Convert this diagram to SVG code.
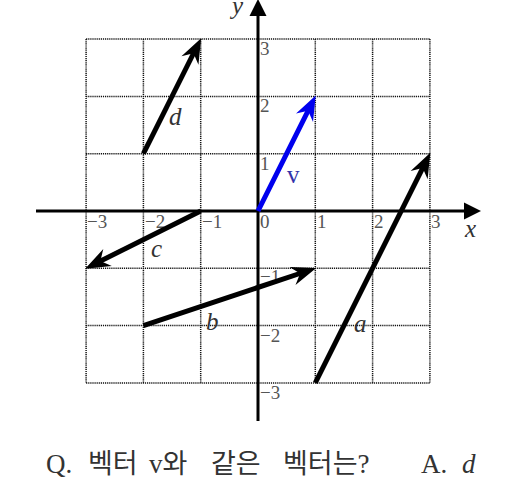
<svg xmlns="http://www.w3.org/2000/svg" width="516" height="484" viewBox="0 0 516 484">
<style>
.grid{stroke:#111;stroke-width:1.5;stroke-dasharray:1.2 0.9;fill:none}
.axis{stroke:#000;stroke-width:3;fill:none}
.vec{stroke:#000;stroke-width:5;fill:none}
.tick{font-family:"Liberation Serif",serif;font-size:19px;fill:#555}
.lbl{font-family:"Liberation Serif",serif;font-style:italic;font-size:25px;fill:#333}
.q{font-family:"Liberation Serif","Noto Sans CJK KR",serif;font-size:27px;fill:#333}
</style>
<defs>
<marker id="ah" markerUnits="userSpaceOnUse" viewBox="-14 -10 26 20" refX="0" refY="0" markerWidth="26" markerHeight="20" orient="auto" overflow="visible">
<path d="M11,0 L-14,-9.5 L-6,0 L-14,9.5 Z" fill="#000"/>
</marker>
<marker id="ahb" markerUnits="userSpaceOnUse" viewBox="-14 -10 26 20" refX="0" refY="0" markerWidth="26" markerHeight="20" orient="auto" overflow="visible">
<path d="M11,0 L-14,-9.5 L-6,0 L-14,9.5 Z" fill="#0000ee"/>
</marker>
</defs>
<g id="grid">
<path class="grid" d="M86.1,39.1V382.9M143.4,39.1V382.9M200.7,39.1V382.9M315.3,39.1V382.9M372.6,39.1V382.9M429.9,39.1V382.9M86.1,39.1H429.9M86.1,96.4H429.9M86.1,153.7H429.9M86.1,268.3H429.9M86.1,325.6H429.9M86.1,382.9H429.9"/>
</g>
<g id="axes">
<line class="axis" x1="36" y1="211" x2="466" y2="211"/>
<path d="M481,211 L464,202.5 L464,219.5 Z" fill="#000"/>
<line class="axis" x1="258" y1="421" x2="258" y2="4"/>
<path d="M258,-1 L249.5,16 L266.5,16 Z" fill="#000"/>
<text class="lbl" x="465" y="237">x</text>
<text class="lbl" x="232" y="14">y</text>
</g>
<g id="ticks" class="tick">
<text x="87" y="228">−3</text>
<text x="145" y="228">−2</text>
<text x="202" y="228">−1</text>
<text x="260" y="228">0</text>
<text x="317" y="228">1</text>
<text x="374" y="228">2</text>
<text x="431" y="228">3</text>
<text x="260" y="55">3</text>
<text x="260" y="112">2</text>
<text x="260" y="170">1</text>
<text x="260" y="283">−1</text>
<text x="260" y="342">−2</text>
<text x="260" y="399">−3</text>
</g>
<g id="connectors">
<line id="vec-v" x1="258" y1="211" x2="310.8" y2="105.3" stroke="#0000ee" stroke-width="5" marker-end="url(#ahb)"/>
<line id="vec-d" class="vec" x1="143.4" y1="153.7" x2="196.2" y2="48.0" marker-end="url(#ah)"/>
<line id="vec-c" class="vec" x1="200.7" y1="211" x2="95.0" y2="263.8" marker-end="url(#ah)"/>
<line id="vec-b" class="vec" x1="143.4" y1="325.6" x2="305.8" y2="271.5" marker-end="url(#ah)"/>
<line id="vec-a" class="vec" x1="315.3" y1="382.9" x2="425.4" y2="162.6" marker-end="url(#ah)"/>
</g>
<g id="labels">
<text class="lbl" x="169" y="125">d</text>
<text x="287" y="183" font-family="Liberation Serif,serif" font-size="25" fill="#3333aa">v</text>
<text class="lbl" x="151" y="257">c</text>
<text class="lbl" x="206" y="330">b</text>
<text class="lbl" x="354" y="332">a</text>
</g>
<g id="question">
<text class="q" y="473"><tspan x="46">Q.</tspan><tspan x="88">벡터</tspan><tspan x="149">v와</tspan><tspan x="211">같은</tspan><tspan x="283">벡터는?</tspan><tspan x="421">A.</tspan><tspan x="462" font-style="italic">d</tspan></text>
</g>
</svg>
